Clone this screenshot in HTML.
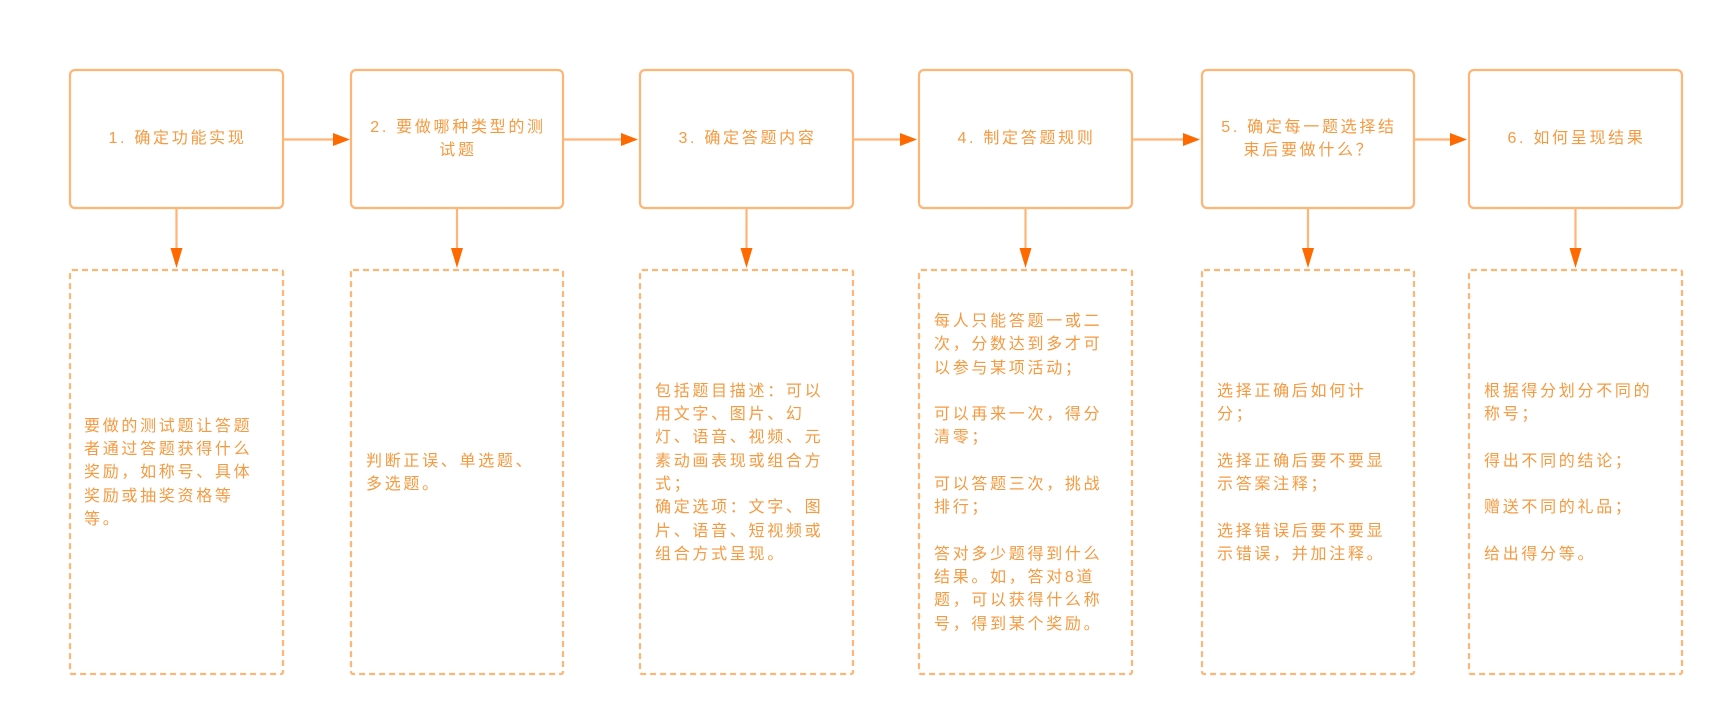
<!DOCTYPE html>
<html>
<head>
<meta charset="utf-8">
<style>
  html, body { margin: 0; padding: 0; background: #ffffff; }
  body { width: 1729px; height: 722px; position: relative; overflow: hidden;
         font-family: "Liberation Sans", "Noto Sans CJK SC", sans-serif; }
  svg { position: absolute; left: 0; top: 0; }
  .t { position: absolute; display: flex; align-items: center; justify-content: center;
       color: #f59a40; font-size: 16px; letter-spacing: 2.7px; line-height: 23.3px;
       text-align: center; white-space: nowrap; }
  .d { position: absolute; display: flex; align-items: center; justify-content: flex-start;
       color: #f59a40; font-size: 16px; letter-spacing: 2.7px; line-height: 23.3px;
       text-align: left; white-space: nowrap; }
</style>
</head>
<body>
<svg width="1729" height="722" viewBox="0 0 1729 722" xmlns="http://www.w3.org/2000/svg">
  <g fill="none" stroke="#ffb576" stroke-width="2.2">
    <rect x="70" y="70" width="213" height="138" rx="5"/>
    <rect x="351" y="70" width="212" height="138" rx="5"/>
    <rect x="640" y="70" width="213" height="138" rx="5"/>
    <rect x="919" y="70" width="213" height="138" rx="5"/>
    <rect x="1202" y="70" width="212" height="138" rx="5"/>
    <rect x="1469" y="70" width="213" height="138" rx="5"/>
  </g>
  <g fill="none" stroke="#ffb576" stroke-width="2.2" stroke-dasharray="6 4">
    <rect x="70" y="270" width="213" height="404" rx="2"/>
    <rect x="351" y="270" width="212" height="404" rx="2"/>
    <rect x="640" y="270" width="213" height="404" rx="2"/>
    <rect x="919" y="270" width="213" height="404" rx="2"/>
    <rect x="1202" y="270" width="212" height="404" rx="2"/>
    <rect x="1469" y="270" width="213" height="404" rx="2"/>
  </g>
  <!-- horizontal connectors -->
  <g stroke="#ffb576" stroke-width="2.2">
    <line x1="284" y1="139.5" x2="334" y2="139.5"/>
    <line x1="564" y1="139.5" x2="623" y2="139.5"/>
    <line x1="854" y1="139.5" x2="902" y2="139.5"/>
    <line x1="1133" y1="139.5" x2="1185" y2="139.5"/>
    <line x1="1415" y1="139.5" x2="1452" y2="139.5"/>
  </g>
  <g fill="#ff6a00">
    <polygon points="333,133 350,139.5 333,146"/>
    <polygon points="621,133 638,139.5 621,146"/>
    <polygon points="900,133 917,139.5 900,146"/>
    <polygon points="1183,133 1200,139.5 1183,146"/>
    <polygon points="1450,133 1467,139.5 1450,146"/>
  </g>
  <!-- vertical connectors -->
  <g stroke="#ffb576" stroke-width="2.2">
    <line x1="176.5" y1="209" x2="176.5" y2="250"/>
    <line x1="457" y1="209" x2="457" y2="250"/>
    <line x1="746.5" y1="209" x2="746.5" y2="250"/>
    <line x1="1025.5" y1="209" x2="1025.5" y2="250"/>
    <line x1="1308" y1="209" x2="1308" y2="250"/>
    <line x1="1575.5" y1="209" x2="1575.5" y2="250"/>
  </g>
  <g fill="#ff6a00">
    <polygon points="170.5,248 182.5,248 176.5,268"/>
    <polygon points="451,248 463,248 457,268"/>
    <polygon points="740.5,248 752.5,248 746.5,268"/>
    <polygon points="1019.5,248 1031.5,248 1025.5,268"/>
    <polygon points="1302,248 1314,248 1308,268"/>
    <polygon points="1569.5,248 1581.5,248 1575.5,268"/>
  </g>
</svg>

<!-- titles -->
<div class="t" style="left:69px;top:69px;width:217px;height:140px;">1. 确定功能实现</div>
<div class="t" style="left:350px;top:69px;width:216px;height:140px;">2. 要做哪种类型的测<br>试题</div>
<div class="t" style="left:639px;top:69px;width:217px;height:140px;">3. 确定答题内容</div>
<div class="t" style="left:918px;top:69px;width:217px;height:140px;">4. 制定答题规则</div>
<div class="t" style="left:1201px;top:69px;width:216px;height:140px;">5. 确定每一题选择结<br>束后要做什么？</div>
<div class="t" style="left:1468px;top:69px;width:217px;height:140px;">6. 如何呈现结果</div>

<!-- dashed box texts -->
<div class="d" style="left:84px;top:269px;width:195px;height:408px;"><div>要做的测试题让答题<br>者通过答题获得什么<br>奖励，如称号、具体<br>奖励或抽奖资格等<br>等。</div></div>
<div class="d" style="left:366px;top:269px;width:195px;height:408px;"><div>判断正误、单选题、<br>多选题。</div></div>
<div class="d" style="left:655px;top:269px;width:195px;height:408px;"><div>包括题目描述：可以<br>用文字、图片、幻<br>灯、语音、视频、元<br>素动画表现或组合方<br>式；<br>确定选项：文字、图<br>片、语音、短视频或<br>组合方式呈现。</div></div>
<div class="d" style="left:934px;top:269px;width:195px;height:408px;"><div>每人只能答题一或二<br>次，分数达到多才可<br>以参与某项活动；<br>&nbsp;<br>可以再来一次，得分<br>清零；<br>&nbsp;<br>可以答题三次，挑战<br>排行；<br>&nbsp;<br>答对多少题得到什么<br>结果。如，答对8道<br>题，可以获得什么称<br>号，得到某个奖励。</div></div>
<div class="d" style="left:1217px;top:269px;width:195px;height:408px;"><div>选择正确后如何计<br>分；<br>&nbsp;<br>选择正确后要不要显<br>示答案注释；<br>&nbsp;<br>选择错误后要不要显<br>示错误，并加注释。</div></div>
<div class="d" style="left:1484px;top:269px;width:195px;height:408px;"><div>根据得分划分不同的<br>称号；<br>&nbsp;<br>得出不同的结论；<br>&nbsp;<br>赠送不同的礼品；<br>&nbsp;<br>给出得分等。</div></div>
</body>
</html>
